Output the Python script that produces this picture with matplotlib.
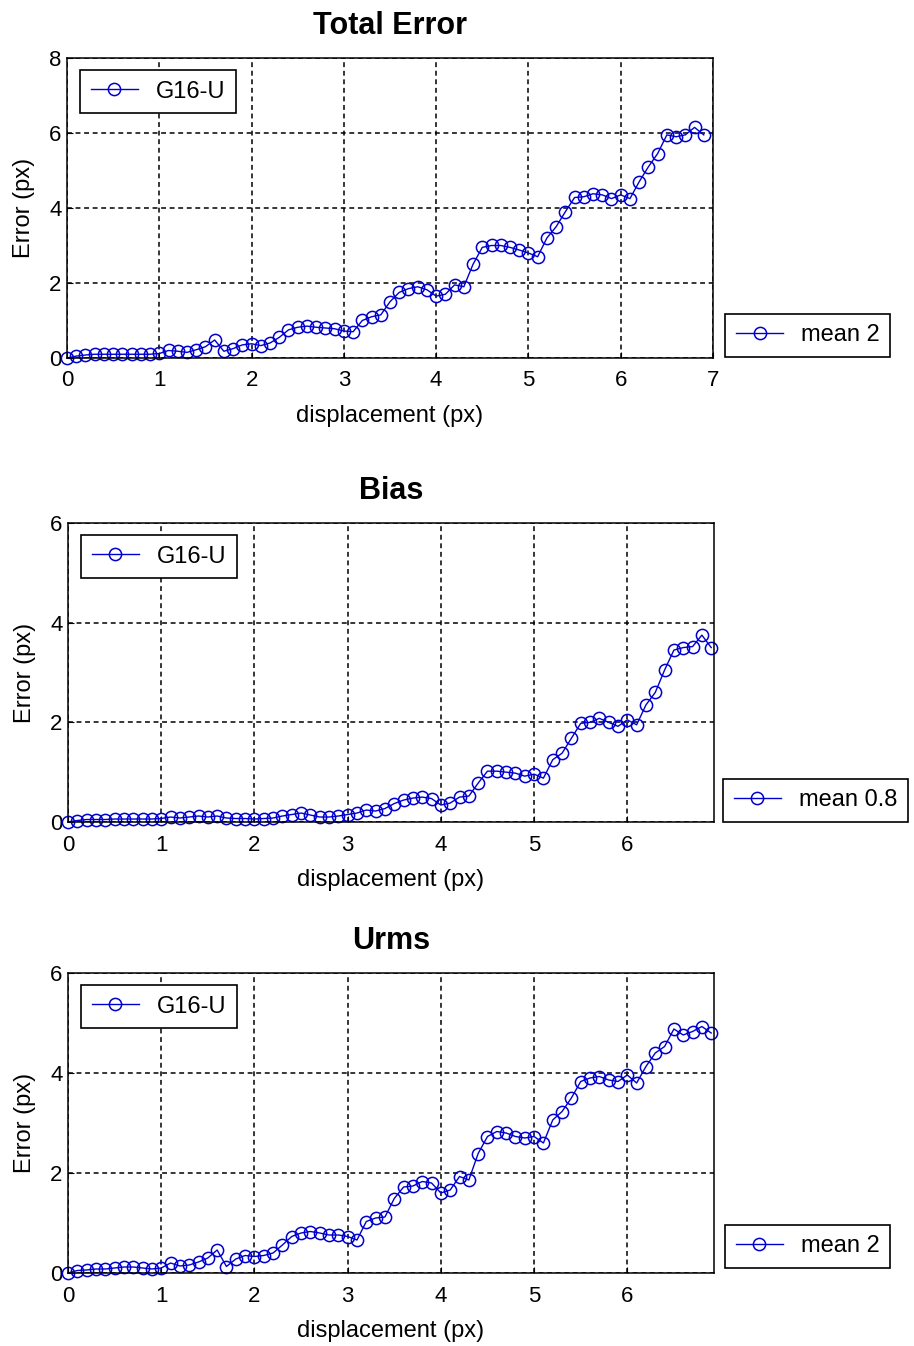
import numpy as np
import matplotlib.pyplot as plt
from matplotlib.lines import Line2D

plt.rcParams['font.family'] = ['Liberation Sans', 'DejaVu Sans']

# displacement steps (px)
disp = np.round(np.arange(0, 70) * 0.1, 1)

total_err = [0.0, 0.05, 0.08, 0.1, 0.1, 0.1, 0.1, 0.1, 0.1, 0.1,
             0.12, 0.2, 0.18, 0.15, 0.22, 0.3, 0.48, 0.18, 0.25, 0.35,
             0.38, 0.33, 0.4, 0.55, 0.75, 0.82, 0.85, 0.82, 0.8, 0.78,
             0.72, 0.7, 1.0, 1.1, 1.15, 1.5, 1.75, 1.85, 1.9, 1.82,
             1.65, 1.7, 1.95, 1.9, 2.5, 2.95, 3.0, 3.0, 2.95, 2.88,
             2.8, 2.7, 3.2, 3.5, 3.9, 4.28, 4.3, 4.38, 4.35, 4.25,
             4.35, 4.25, 4.7, 5.1, 5.45, 5.95, 5.9, 5.95, 6.15, 5.95]

bias = [0.0, 0.03, 0.05, 0.05, 0.05, 0.06, 0.06, 0.06, 0.06, 0.06,
        0.07, 0.1, 0.08, 0.1, 0.12, 0.1, 0.12, 0.08, 0.07, 0.07,
        0.06, 0.07, 0.08, 0.12, 0.15, 0.18, 0.14, 0.1, 0.1, 0.12,
        0.15, 0.18, 0.24, 0.22, 0.27, 0.37, 0.44, 0.48, 0.5, 0.47,
        0.34, 0.38, 0.5, 0.52, 0.78, 1.02, 1.02, 1.0, 0.98, 0.92,
        0.96, 0.88, 1.25, 1.38, 1.68, 1.98, 2.0, 2.08, 2.0, 1.92,
        2.05, 1.95, 2.35, 2.6, 3.05, 3.45, 3.5, 3.52, 3.75, 3.5]

urms = [0.0, 0.05, 0.06, 0.08, 0.08, 0.1, 0.12, 0.12, 0.1, 0.08,
        0.1, 0.2, 0.14, 0.16, 0.22, 0.3, 0.46, 0.13, 0.28, 0.35,
        0.33, 0.35, 0.4, 0.56, 0.73, 0.8, 0.83, 0.8, 0.76, 0.76,
        0.73, 0.66, 1.03, 1.1, 1.12, 1.49, 1.72, 1.74, 1.83, 1.8,
        1.6, 1.66, 1.93, 1.86, 2.39, 2.73, 2.83, 2.8, 2.73, 2.7,
        2.73, 2.6, 3.06, 3.23, 3.5, 3.83, 3.9, 3.93, 3.86, 3.83,
        3.96, 3.8, 4.13, 4.4, 4.53, 4.88, 4.76, 4.83, 4.93, 4.8]

titles = ["Total Error", "Bias", "Urms"]
series = [total_err, bias, urms]
mean_labels = ["mean 2", "mean 0.8", "mean 2"]
ylims = [(0, 8), (0, 6), (0, 6)]
xlims = [(0, 7), (0, 6.93), (0, 6.93)]
yticks = [[0, 2, 4, 6, 8], [0, 2, 4, 6], [0, 2, 4, 6]]
xticks = [list(range(8)), list(range(7)), list(range(7))]

# axes rectangles in pixels: left, top, right, bottom
W, H = 914, 1346
rects_px = [(67, 58, 713, 358), (68, 523, 714, 822), (68, 973, 714, 1273)]
mean_leg_pos = [(1.019, 0.003), (1.014, 0.0), (1.017, 0.017)]

blue = '#0000d0'
fs = 16

fig = plt.figure(figsize=(W / 100, H / 100), dpi=100)

for i in range(3):
    l, t, r, b = rects_px[i]
    ax = fig.add_axes([l / W, 1 - b / H, (r - l) / W, (b - t) / H])
    ax.plot(disp, series[i], color=blue, lw=1.0, marker='o', ms=8.8,
            mfc='none', mec=blue, mew=1.1, label='G16-U', clip_on=False)
    ax.set_xlim(*xlims[i])
    ax.set_ylim(*ylims[i])
    ax.set_xticks(xticks[i])
    ax.set_yticks(yticks[i])
    ax.tick_params(axis='x', direction='in', length=4, labelsize=fs, width=0.8, pad=9)
    ax.tick_params(axis='y', direction='in', length=4, labelsize=fs, width=0.8, pad=4)
    ax.grid(True, color='black', linestyle=(0, (3.2, 2.4)), linewidth=1.1)
    for s in ax.spines.values():
        s.set_linewidth(1.1)
    ax.set_title(titles[i], fontsize=22, fontweight='bold', pad=17)
    ax.set_xlabel("displacement (px)", fontsize=17, labelpad=10)
    ax.set_ylabel("Error (px)", fontsize=17, labelpad=10)

    leg1 = ax.legend(loc='upper left', bbox_to_anchor=(0.02, 0.96),
                     borderaxespad=0, fancybox=False, edgecolor='black',
                     fontsize=17, handlelength=2.0, handletextpad=0.75,
                     borderpad=0.45, framealpha=1)
    leg1.get_frame().set_linewidth(1.2)
    ax.add_artist(leg1)

    proxy = Line2D([], [], color=blue, lw=1.0, marker='o', ms=8.8,
                   mfc='none', mec=blue, mew=1.1)
    leg2 = ax.legend([proxy], [mean_labels[i]], loc='lower left',
                     bbox_to_anchor=mean_leg_pos[i], borderaxespad=0,
                     fancybox=False, edgecolor='black', fontsize=17,
                     handlelength=2.0, handletextpad=0.75, borderpad=0.45,
                     framealpha=1)
    leg2.get_frame().set_linewidth(1.2)

fig.savefig("out.png", dpi=100)
